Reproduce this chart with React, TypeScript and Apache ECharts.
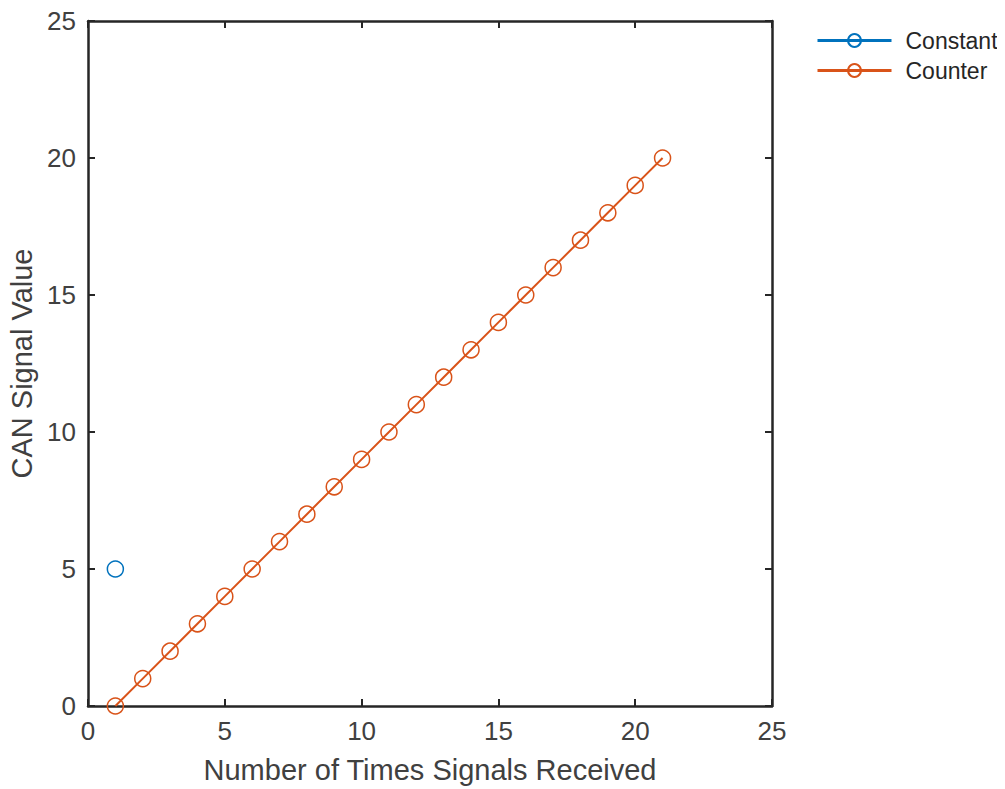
import React, { useEffect, useRef } from "react";
import * as echarts from "echarts";

const constantX = [1];
const constantY = [5];
const counterX = [1, 2, 3, 4, 5, 6, 7, 8, 9, 10, 11, 12, 13, 14, 15, 16, 17, 18, 19, 20, 21];
const counterY = [0, 1, 2, 3, 4, 5, 6, 7, 8, 9, 10, 11, 12, 13, 14, 15, 16, 17, 18, 19, 20];
const axisMin = 0;
const axisMax = 25;
const axisStep = 5;

const frame = "#262626";
const labelColor = "#404040";
const blue = "#0072BD";
const orange = "#D95319";
const font = "'Liberation Sans', Arial, sans-serif";

export default function App() {
  const ref = useRef<HTMLDivElement>(null);
  useEffect(() => {
    const chart = echarts.init(ref.current!, null, { renderer: "svg" });
    const valAxis = (pos: string, show: boolean, extra: any = {}) => ({
      type: "value",
      position: pos,
      min: axisMin,
      max: axisMax,
      interval: axisStep,
      axisLine: { show: true, onZero: false, lineStyle: { color: frame, width: 2.5 } },
      axisTick: { show: true, inside: true, length: 7, lineStyle: { color: frame, width: 2 } },
      axisLabel: { show, color: labelColor, fontSize: 26, fontFamily: font },
      splitLine: { show: false },
      ...extra,
    });
    const sym = (c: string) => ({ color: "transparent", borderColor: c, borderWidth: 1.5 });
    chart.setOption({
      animation: false,
      backgroundColor: "#ffffff",
      grid: { left: 80, top: 13, width: 684, height: 685, containLabel: false, outerBoundsMode: "none" },
      legend: {
        left: 803,
        top: 16,
        orient: "vertical",
        itemWidth: 74,
        itemHeight: 16,
        itemGap: 7,
        lineStyle: { width: 3 },
        textStyle: { fontSize: 23, color: "#262626", fontFamily: font, padding: [0, 0, 0, 9] },
        data: ["Constant", "Counter"],
      },
      xAxis: [
        valAxis("bottom", true, {
          name: "Number of Times Signals Received",
          nameLocation: "middle",
          nameGap: 49,
          nameTextStyle: { fontSize: 29, color: labelColor, fontFamily: font },
          axisLabel: { show: true, color: labelColor, fontSize: 26, margin: 12, fontFamily: font },
        }),
        valAxis("top", false),
      ],
      yAxis: [
        valAxis("left", true, {
          name: "CAN Signal Value",
          nameLocation: "middle",
          nameGap: 39,
          nameTextStyle: { fontSize: 29, lineHeight: 26, color: labelColor, fontFamily: font },
          axisLabel: { show: true, color: labelColor, fontSize: 26, lineHeight: 20, margin: 12, fontFamily: font },
        }),
        valAxis("right", false),
      ],
      series: [
        {
          name: "Constant",
          type: "line",
          data: constantX.map((x, i) => [x, constantY[i]]),
          symbol: "circle",
          symbolSize: 16,
          color: blue,
          lineStyle: { color: blue, width: 2 },
          itemStyle: sym(blue),
        },
        {
          name: "Counter",
          type: "line",
          data: counterX.map((x, i) => [x, counterY[i]]),
          symbol: "circle",
          symbolSize: 16,
          showAllSymbol: true,
          color: orange,
          lineStyle: { color: orange, width: 2 },
          itemStyle: sym(orange),
        },
      ],
    });
    return () => chart.dispose();
  }, []);
  return <div ref={ref} style={{ width: 997, height: 781 }} />;
}
